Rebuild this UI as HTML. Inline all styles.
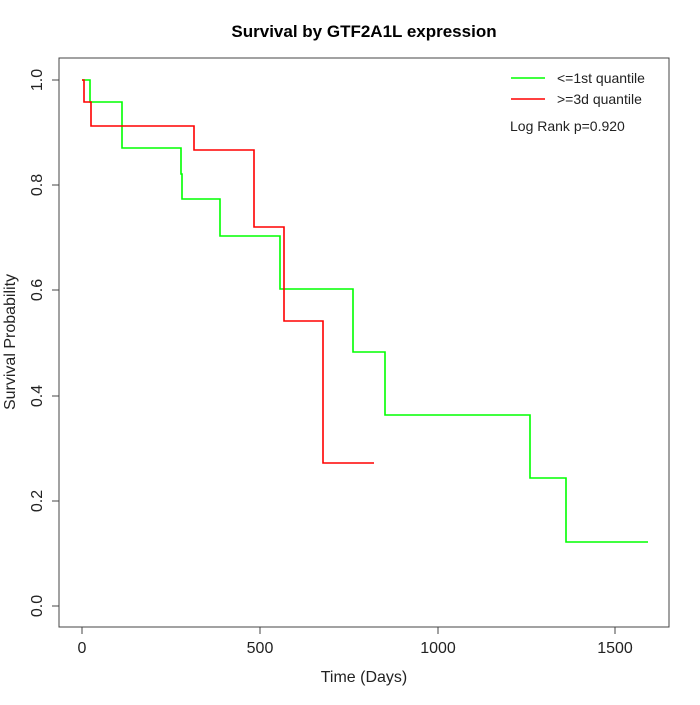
<!DOCTYPE html><html><head><style>body{margin:0;background:#fff}</style></head><body>
<svg width="700" height="700" xmlns="http://www.w3.org/2000/svg" font-family="Liberation Sans, sans-serif">
<rect width="700" height="700" fill="#fff"/>
<text x="364" y="37" font-size="17" font-weight="bold" text-anchor="middle">Survival by GTF2A1L expression</text>
<rect x="59" y="58" width="610" height="569" fill="none" stroke="#444" stroke-width="1"/>
<g stroke="#444" fill="none">
<path d="M82 627v7M260 627v7M438 627v7M615 627v7"/>
<path d="M59 80h-7M59 185h-7M59 290h-7M59 396h-7M59 501h-7M59 606h-7"/>
</g>
<g font-size="16" fill="#222" text-anchor="middle">
<text x="82" y="653">0</text><text x="260" y="653">500</text><text x="438" y="653">1000</text><text x="615" y="653">1500</text>
<text x="364" y="682">Time (Days)</text>
<g transform="rotate(-90)"><text x="-80" y="42">1.0</text><text x="-185" y="42">0.8</text><text x="-290" y="42">0.6</text><text x="-396" y="42">0.4</text><text x="-501" y="42">0.2</text><text x="-606" y="42">0.0</text>
<text x="-342" y="15">Survival Probability</text></g>
</g>
<path fill="none" stroke="#0f0" stroke-width="1.6" d="M82 80H90V102H122V148H181V174H182V199H220V236H280V289H353V352H385V415H530V478H566V542H648"/>
<path fill="none" stroke="#f00" stroke-width="1.6" d="M82 80H84V102H91V126H194V150H254V227H284V321H323V463H374"/>
<line x1="511" y1="78" x2="545" y2="78" stroke="#0f0" stroke-width="1.6"/>
<line x1="511" y1="99" x2="545" y2="99" stroke="#f00" stroke-width="1.6"/>
<g font-size="14" fill="#222"><text x="557" y="83">&lt;=1st quantile</text><text x="557" y="104">&gt;=3d quantile</text><text x="510" y="131">Log Rank p=0.920</text></g>
</svg></body></html>
